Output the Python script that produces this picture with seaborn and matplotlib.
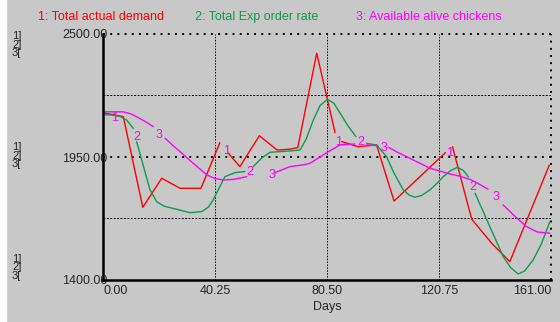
import matplotlib
matplotlib.use('Agg')

import numpy as np
import pandas as pd
import matplotlib.pyplot as plt
from matplotlib.patches import Rectangle
from matplotlib.transforms import ScaledTranslation
import seaborn as sns

# series; nan = break in the line (where a label sits)
nan = np.nan
t_demand = [0, 7.3, 14.3, 21.1, 27.7, 35.2, 42, nan, 45, 49.2, 56.2, 62.6, 67.2, 70,
            76.8, 83.4, nan, 85.8, 91.7, 98.3, 104.6, 123.1, nan, 125.6, 132.5, 139.7,
            146.2, 160.4]
v_demand = [2148, 2130, 1725, 1855, 1810, 1810, 2014, nan, 1967, 1907, 2045, 1981, 1985,
            1992, 2414, 2059, nan, 2019, 1996, 2004, 1753, 1970, nan, 1996, 1672, 1564,
            1482, 1914]

t_order = [0, 3, 6, 8.5, 10.9, nan, 12.1, 14.5, 16.9, 19.3, 22, 26.5, 31.3, 35.5, 37.8,
           39.6, 41.5, 43.8, 47.4, 51, nan, 54, 57, 60, 67.2, 70.8, 73, 75.6, 78, 80.7,
           83, 85.2, 88, 90.9, nan, 94.7, 98.3, 101.9, 104.5, 107.9, 110, 112.1, 114.5,
           117.5, 120, 122.3, 125, 127.4, 129.5, 131.3, nan, 133.7, 136.5, 139, 141.5,
           143.8, 146.5, 149.2, 151.5, 154.6, 157.5, 160.6]
v_order = [2139, 2138, 2132, 2115, 2078, nan, 2019, 1910, 1803, 1750, 1730, 1716, 1701,
           1706, 1725, 1758, 1805, 1862, 1880, 1885, nan, 1907, 1945, 1971, 1977, 1981,
           2030, 2116, 2180, 2208, 2190, 2146, 2090, 2041, nan, 2011, 2004, 1952, 1880,
           1803, 1780, 1770, 1778, 1803, 1832, 1862, 1890, 1904, 1890, 1862, nan, 1788,
           1710, 1639, 1570, 1505, 1455, 1427, 1440, 1490, 1560, 1661]

t_chick = [0, 7.3, 10, 12.1, 15, 18.1, nan, 22.3, 25, 27.7, 32.4, 37.3, 40, 43.2, 47,
           51.6, nan, 61.8, 67.2, 72, 74.4, 78, 81, 85.2, 90.5, nan, 94.7, 98.8, nan,
           102.5, 106, 110.3, 117.5, 124.7, 128, 131.9, 135, 138.4, nan, 143.8, 148,
           152.2, 156, 160.6]
v_chick = [2152, 2152, 2143, 2130, 2110, 2086, nan, 2034, 2003, 1974, 1922, 1870, 1855,
           1847, 1850, 1862, nan, 1880, 1907, 1915, 1922, 1950, 1974, 2004, 2008, nan,
           2004, 2000, nan, 1994, 1970, 1944, 1900, 1874, 1865, 1850, 1830, 1806, nan,
           1736, 1685, 1639, 1615, 1609]

# the numbers drawn along the curves
lbl_text = ["1", "2", "3", "1", "2", "3", "1", "2", "3", "1", "2", "3"]
lbl_t = [4.0, 12.1, 20.3, 44.4, 52.6, 60.6, 84.5, 92.6, 101.0, 124.7, 132.8, 141.2]
lbl_v = [2125, 2040, 2049, 1978, 1884, 1870, 2019, 2019, 1989, 1969, 1817, 1773]

x_ticks = [0, 40.25, 80.5, 120.75, 161]
y_ticks = [1400, 1950, 2500]

RED = "#ff0000"
GREEN = "#109a50"
MAGENTA = "#ff00ff"
GRAY = "#c8c8c8"


def to_frame(t, v):
    df = pd.DataFrame({"t": t, "v": v})
    df["seg"] = df["v"].isna().cumsum()
    return df.dropna()


sns.set_style("white")
plt.rcParams["font.family"] = ["Liberation Sans", "DejaVu Sans"]
plt.rcParams["font.size"] = 9

fig = plt.figure(figsize=(5.6, 3.22), dpi=100, facecolor=GRAY)
fig.patches.append(Rectangle((0, 0), 6 / 560, 1, transform=fig.transFigure,
                             color="white", zorder=0))
ax = fig.add_axes([103 / 560, 1 - 280 / 322, 448 / 560, 246 / 322])
ax.set_facecolor(GRAY)

for t, v, c in [(t_demand, v_demand, RED), (t_order, v_order, GREEN),
                (t_chick, v_chick, MAGENTA)]:
    sns.lineplot(data=to_frame(t, v), x="t", y="v", units="seg", estimator=None,
                 color=c, lw=1.0, ax=ax, legend=False)

for s, x, y in zip(lbl_text, lbl_t, lbl_v):
    ax.text(x, y, s, color=MAGENTA, ha="center", va="center", fontsize=9)

# grid, Stella style
bold_dot = (0, (1, 2.7))
ax.axhline(1950, color="black", lw=1.4, ls=bold_dot, zorder=1)
ax.axhline(2500, color="black", lw=1.4, ls=bold_dot, clip_on=False, zorder=1)
ax.axvline(161, color="black", lw=1.4, ls=bold_dot, clip_on=False, zorder=1)
for y in [2225, 1675]:
    ax.axhline(y, color="black", lw=0.7, ls=(0, (2, 1.5)), zorder=1)
for x in x_ticks[1:-1]:
    ax.axvline(x, color="black", lw=0.7, ls=(0, (1.5, 1.5)), zorder=1)

ax.set_xlim(0, 161)
ax.set_ylim(1400, 2500)
sns.despine(ax=ax, top=True, right=True)
for side in ["left", "bottom"]:
    ax.spines[side].set_color("black")
    ax.spines[side].set_linewidth(1.8)

ax.set_xticks(x_ticks)
ax.set_xticklabels([f"{x:.2f}" for x in x_ticks])
xl = ax.get_xticklabels()
xl[0].set_ha("left")
xl[-1].set_ha("right")
xl[-1].set_transform(xl[-1].get_transform() + ScaledTranslation(0.08, 0, fig.dpi_scale_trans))
ax.tick_params(axis="x", direction="inout", length=5, width=1.5, pad=1, labelsize=9)

ax.set_yticks(y_ticks)
ax.set_yticklabels([f"{y:.2f}" for y in y_ticks])
ax.set_yticks([1675, 2225], minor=True)
ax.tick_params(axis="y", which="major", length=0, pad=-3, labelsize=9)
ax.tick_params(axis="y", which="minor", direction="out", length=5, width=1.5)
ax.set_xlabel("Days", fontsize=9, labelpad=3)
ax.set_ylabel("")

# series keys at the top
fig.text(38 / 560, 1 - 17 / 322, "1: Total actual demand", color=RED, va="center")
fig.text(195 / 560, 1 - 17 / 322, "2: Total Exp order rate", color=GREEN, va="center")
fig.text(356 / 560, 1 - 17 / 322, "3: Available alive chickens", color=MAGENTA, va="center")

# scale markers left of the axis
for y0 in [36, 147, 259]:
    for i, s in enumerate(["1]", "2]", "3["]):
        fig.text(12 / 560, 1 - (y0 + i * 8.5) / 322, s, va="center", fontsize=8)

fig.savefig("out.png", dpi=100, facecolor=GRAY)
